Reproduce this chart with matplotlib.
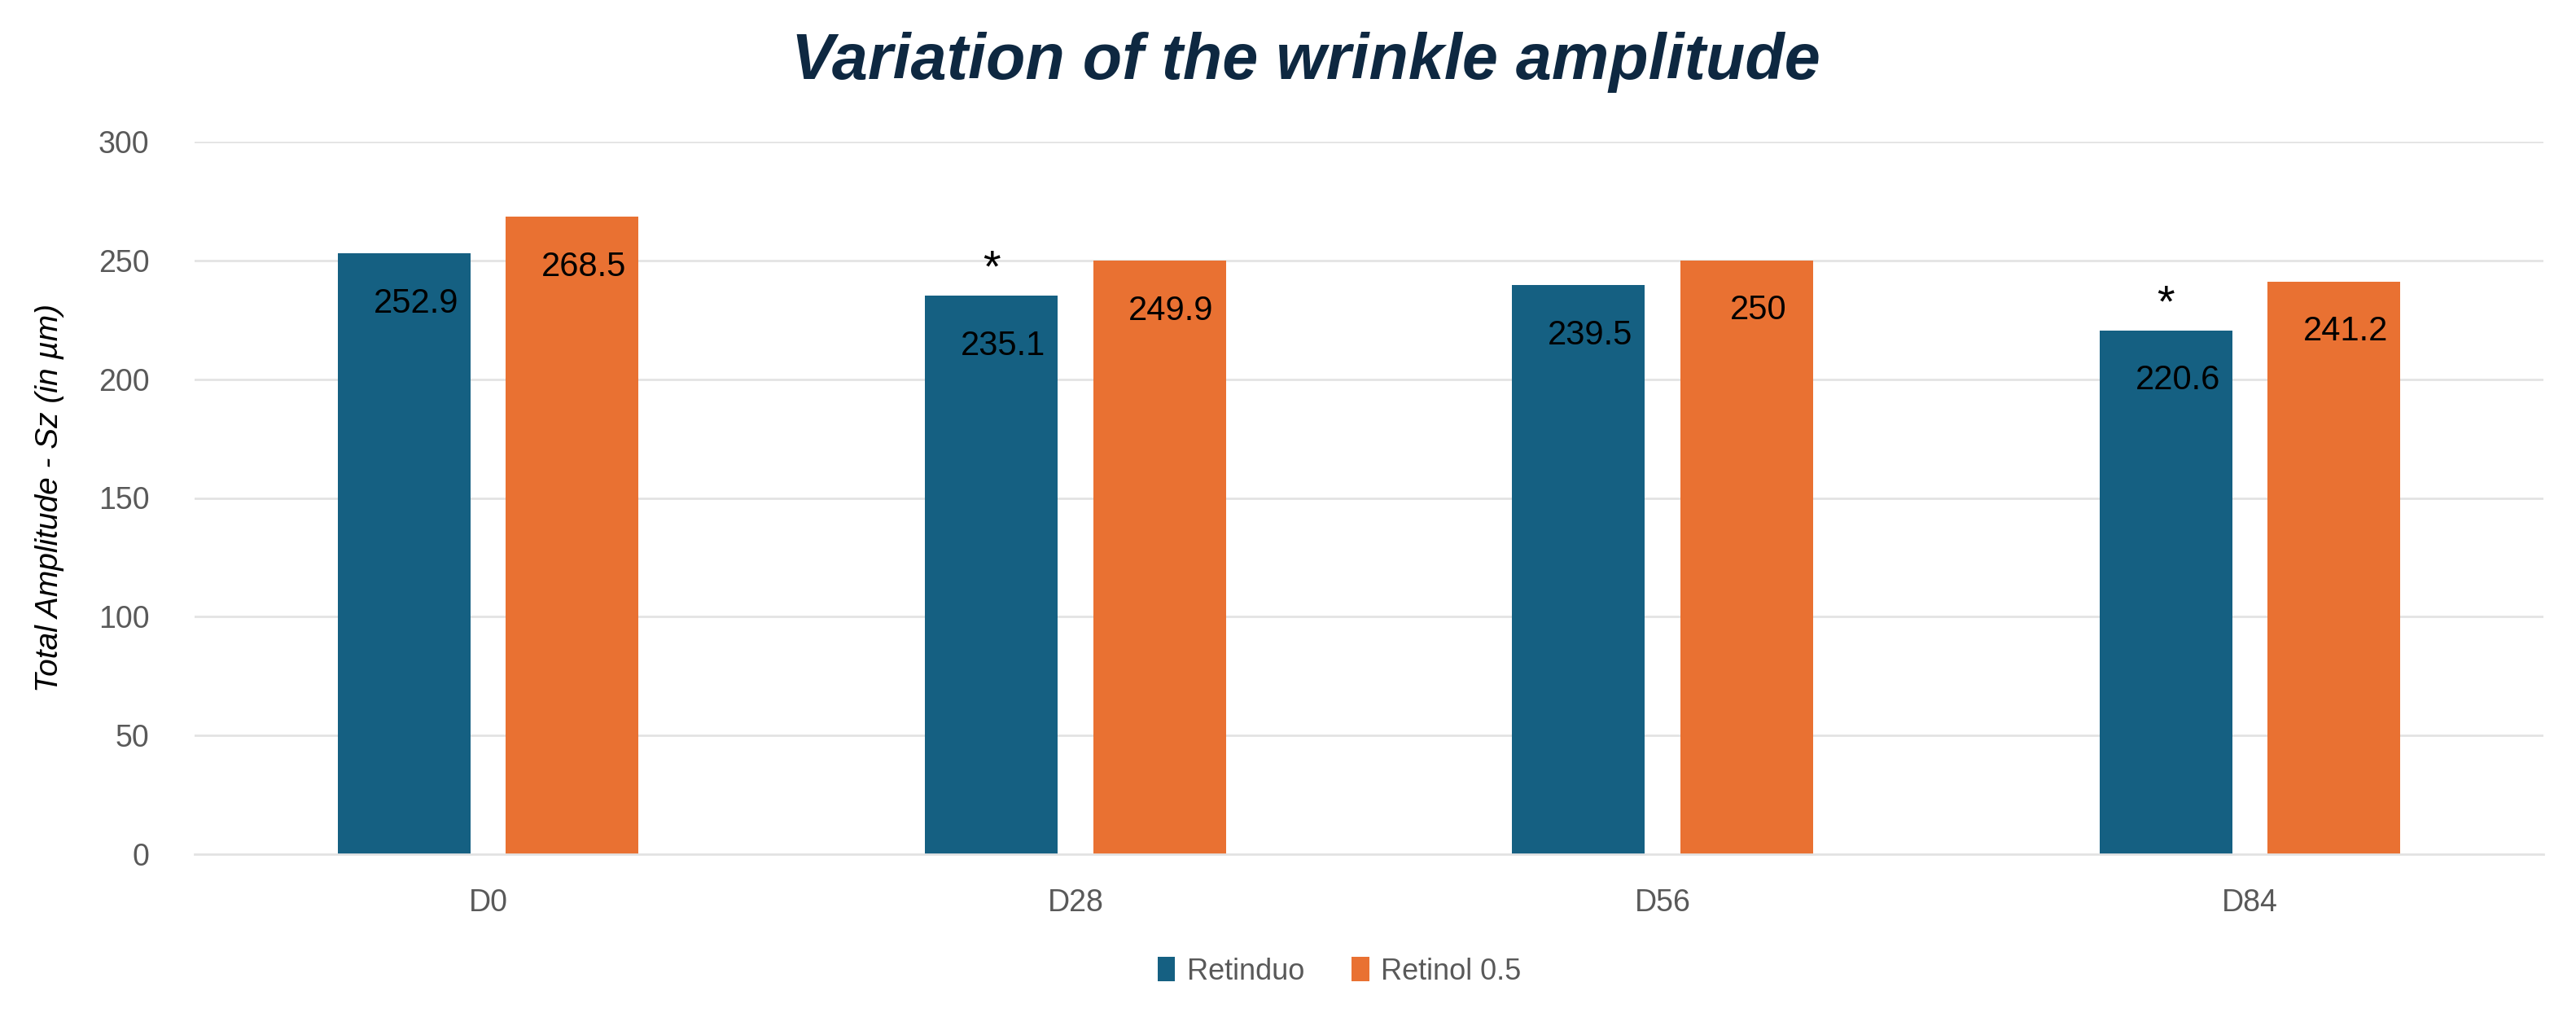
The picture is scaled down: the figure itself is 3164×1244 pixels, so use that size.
import matplotlib
matplotlib.use("Agg")
import matplotlib.pyplot as plt
import numpy as np

# data
days = ["D0", "D28", "D56", "D84"]
retinduo = [252.9, 235.1, 239.5, 220.6]
retinol = [268.5, 249.9, 250, 241.2]
retinduo_labels = ["252.9", "235.1", "239.5", "220.6"]
retinol_labels = ["268.5", "249.9", "250", "241.2"]
significant = [False, True, False, True]  # star above Retinduo bar

BLUE = "#156082"
ORANGE = "#E97132"
NAVY = "#0E2841"
GREY = "#595959"

plt.rcParams['font.family'] = ['Liberation Sans', 'DejaVu Sans']

fig = plt.figure(figsize=(31.64, 12.44), dpi=100)
ax = fig.add_axes([239 / 3164, 1 - 1049 / 1244, (3124 - 239) / 3164, (1049 - 174) / 1244])

x = np.arange(len(days))
w = 0.226
off = 0.143
b1 = ax.bar(x - off, retinduo, w, color=BLUE, label="Retinduo", zorder=2)
b2 = ax.bar(x + off, retinol, w, color=ORANGE, label="Retinol 0.5", zorder=2)

# value labels inside the top of each bar
for bars, labels in [(b1, retinduo_labels), (b2, retinol_labels)]:
    for rect, lab in zip(bars, labels):
        ax.annotate(lab, (rect.get_x() + rect.get_width() / 2 + 0.02, rect.get_height()),
                    xytext=(0, -30), textcoords="offset points",
                    ha="center", va="top", fontsize=30, color="black", zorder=3)

# significance stars
for rect, sig in zip(b1, significant):
    if sig:
        ax.annotate("*", (rect.get_x() + rect.get_width() / 2, rect.get_height()),
                    xytext=(0, 4), textcoords="offset points",
                    ha="center", va="bottom", fontsize=40, color="black", zorder=3)

ax.set_xlim(-0.5, len(days) - 0.5)
ax.set_ylim(0, 300)
ax.set_yticks(np.arange(0, 301, 50))
ax.set_xticks(x)
ax.set_xticklabels(days)
ax.tick_params(axis="both", length=0, labelsize=27, labelcolor=GREY)
ax.tick_params(axis="y", pad=40)
ax.tick_params(axis="x", pad=30)
ax.grid(axis="y", color="#E3E3E3", linewidth=2, zorder=0)
for s in ["top", "right", "left"]:
    ax.spines[s].set_visible(False)
ax.spines["bottom"].set_color("#E3E3E3")
ax.spines["bottom"].set_linewidth(2)

ax.set_ylabel("Total Amplitude - Sz (in µm)", fontsize=28, style="italic", color="black", labelpad=30)

fig.text(1604 / 3164, 1 - 76 / 1244, "Variation of the wrinkle amplitude",
         ha="center", va="center", fontsize=57, fontweight="bold", style="italic", color=NAVY)

fig.legend(loc="center", bbox_to_anchor=(1645 / 3164, 1 - 1193 / 1244), ncol=2, frameon=False,
           fontsize=26, labelcolor=GREY, handlelength=0.6, handleheight=0.9,
           handletextpad=0.4, columnspacing=1.6)

fig.savefig("out.png", dpi=100)
